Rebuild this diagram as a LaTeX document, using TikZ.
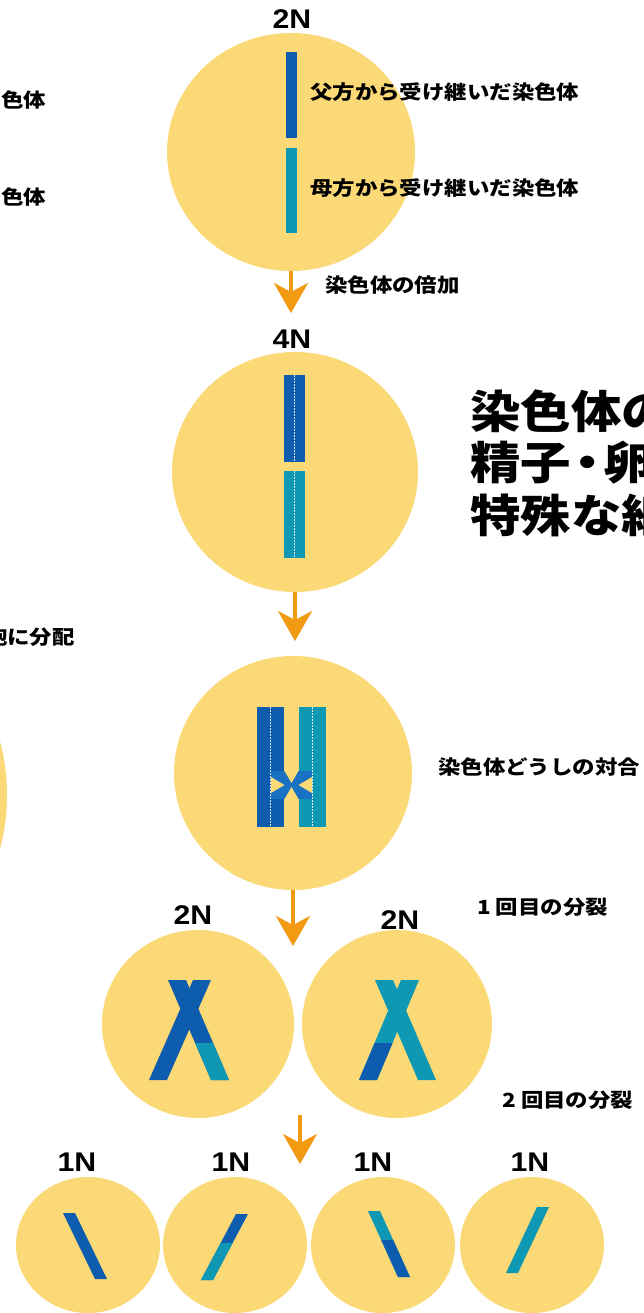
\documentclass[tikz,border=0pt]{standalone}
\usepackage{fontspec}
\usetikzlibrary{shapes.geometric,arrows.meta}
\newfontfamily\jpfont{Noto Sans CJK JP}[FakeStretch=1.15]
\newfontfamily\jpbig{Noto Sans CJK JP}[FakeStretch=1.12]
\newfontfamily\numfont{Liberation Sans}[FakeStretch=1.12]
\definecolor{cellfill}{HTML}{FCD977}
\definecolor{chromA}{HTML}{0D5CAE}
\definecolor{chromB}{HTML}{0F98B3}
\definecolor{chromX}{HTML}{1871C2}
\definecolor{arrowc}{HTML}{F29A12}
% slanted chromatid: colour, top centre x, top y, bottom centre x, bottom y, half width
\newcommand\chrbar[6]{\fill[#1] ({#2-#6},#3) -- ({#2+#6},#3) -- ({#4+#6},#5) -- ({#4-#6},#5) -- cycle;}
\tikzset{
  cell/.style={ellipse, fill=cellfill, inner sep=0pt},
  ploidy/.style={font=\numfont\bfseries\fontsize{27}{27}\selectfont, inner sep=0pt},
  lbl/.style={font=\jpfont\bfseries\fontsize{19.5}{20}\selectfont, inner sep=0pt, anchor=west},
  bigtxt/.style={font=\jpbig\bfseries\fontsize{45}{45}\selectfont, inner sep=0pt, anchor=west},
  flow/.style={draw=arrowc, line width=4pt, -{Stealth[length=30pt,width=34pt,inset=9pt]}},
  seam/.style={draw=white, line width=0.7pt, dash pattern=on 1.5pt off 1.5pt, opacity=0.85}
}
\begin{document}
\begin{tikzpicture}[x=1pt,y=-1pt]
\useasboundingbox (0,0) rectangle (644,1313);
\fill[white] (0,0) rectangle (644,1313);
\clip (0,0) rectangle (644,1313);

% neighbouring panel at the left edge
\fill[cellfill] (-85,795) ellipse [x radius=92pt, y radius=140pt];
\node[lbl] (lf1) at (1,100) {色体};
\node[lbl] (lf2) at (1,197) {色体};
\node[lbl, anchor=east] (lf3) at (75,637) {胞に分配};

% title block
\node[bigtxt] (b1) at (470,411) {染色体の};
\node[bigtxt] (b2) at (470,463) {精子\kern-9pt・\kern-9pt卵};
\node[bigtxt] (b3) at (470,515) {特殊な細};

% stage 1: 2N
\node[ploidy] (p1) at (292,19) {2N};
\node[cell, minimum width=248pt, minimum height=238pt] (c1) at (291,152) {};
\fill[chromA] (285.5,52) rectangle (296.5,138);
\fill[chromB] (285.5,148) rectangle (296.5,233);
\node[lbl] (l1) at (310,92) {父方から受け継いだ染色体};
\node[lbl] (l2) at (310,188) {母方から受け継いだ染色体};

% stage 2: 4N
\coordinate (t1) at (291,313);
\draw[flow] (c1.south) -- (t1);
\node[lbl] (l3) at (325,285) {染色体の倍加};
\node[ploidy] (p2) at (292,339) {4N};
\node[cell, minimum width=246pt, minimum height=240pt] (c2) at (295,472) {};
\fill[chromA] (284,375) rectangle (305,462);
\fill[chromB] (284,471) rectangle (305,558);
\draw[seam] (294.5,375) -- (294.5,462);
\draw[seam] (294.5,471) -- (294.5,558);

% stage 3: pairing
\coordinate (t2) at (295,641);
\draw[flow] (c2.south) -- (t2);
\node[cell, minimum width=238pt, minimum height=234pt] (c3) at (293,773) {};
\fill[chromA] (257,707) rectangle (284,827);
\fill[chromB] (299,707) rectangle (326,827);
\fill[chromX] (271,771) rectangle (312,799);
\fill[cellfill] (284,770) -- (299,770) -- (291.5,783) -- cycle;
\fill[cellfill] (284,800) -- (299,800) -- (291.5,787) -- cycle;
\fill[cellfill] (271,777) -- (284.5,785) -- (271,793) -- cycle;
\fill[cellfill] (312,777) -- (298.5,785) -- (312,793) -- cycle;
\draw[seam] (270.5,707) -- (270.5,827);
\draw[seam] (312.5,707) -- (312.5,827);
\node[lbl] (l4) at (438,767) {染色体どうしの対合};

% stage 4: first division
\coordinate (t3) at (293,946);
\draw[flow] (c3.south) -- (t3);
\node[lbl] (l5) at (477,907) {1 回目の分裂};
\node[ploidy] (p3) at (193,915) {2N};
\node[ploidy] (p4) at (400,920) {2N};
\node[cell, minimum width=192pt, minimum height=188pt] (d1) at (198,1024) {};
\node[cell, minimum width=190pt, minimum height=188pt] (d2) at (397,1024) {};
% left X
\chrbar{chromA}{177}{980}{220}{1080}{9}
\begin{scope}
  \clip (0,1043) rectangle (644,1313);
  \chrbar{chromB}{177}{980}{220}{1080}{9}
\end{scope}
\chrbar{chromA}{202}{980}{158}{1080}{9}
% right X
\chrbar{chromB}{384}{980}{427}{1080}{9}
\chrbar{chromB}{410}{980}{368}{1080}{9}
\begin{scope}
  \clip (0,1043) rectangle (644,1313);
  \chrbar{chromA}{410}{980}{368}{1080}{9}
\end{scope}

% stage 5: second division
\node[lbl] (l6) at (502,1100) {2 回目の分裂};
\coordinate (s4) at (300,1115);
\coordinate (t4) at (300,1164);
\draw[flow] (s4) -- (t4);
\node[ploidy] (q1) at (77,1162) {1N};
\node[ploidy] (q2) at (231,1162) {1N};
\node[ploidy] (q3) at (373,1162) {1N};
\node[ploidy] (q4) at (530,1162) {1N};
\node[cell, minimum width=144pt, minimum height=136pt] (e1) at (88,1245) {};
\node[cell, minimum width=144pt, minimum height=136pt] (e2) at (235,1245) {};
\node[cell, minimum width=144pt, minimum height=136pt] (e3) at (383,1245) {};
\node[cell, minimum width=144pt, minimum height=136pt] (e4) at (532,1245) {};
\chrbar{chromA}{69}{1213}{101}{1279}{6}
\chrbar{chromA}{242}{1214}{207}{1280}{6}
\begin{scope}
  \clip (0,1243) rectangle (644,1313);
  \chrbar{chromB}{242}{1214}{207}{1280}{6}
\end{scope}
\chrbar{chromB}{374}{1211}{404}{1277}{6}
\begin{scope}
  \clip (0,1240) rectangle (644,1313);
  \chrbar{chromA}{374}{1211}{404}{1277}{6}
\end{scope}
\chrbar{chromB}{543}{1207}{512}{1273}{6}
\end{tikzpicture}
\end{document}
